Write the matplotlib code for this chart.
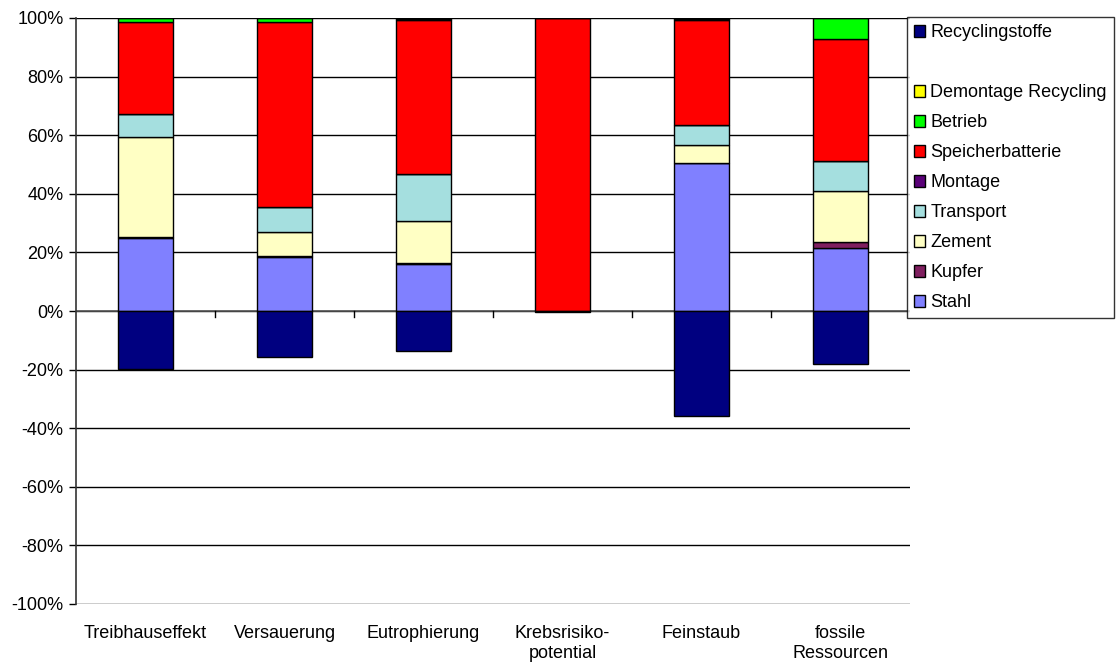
import matplotlib
matplotlib.use("Agg")
import matplotlib.pyplot as plt
from matplotlib.patches import Patch
from matplotlib.ticker import FuncFormatter
import numpy as np

plt.rcParams['font.family'] = ['Liberation Sans', 'DejaVu Sans']

categories = ["Treibhauseffekt", "Versauerung", "Eutrophierung",
              "Krebsrisiko-\npotential", "Feinstaub", "fossile\nRessourcen"]

# Shares in percent, stacked bottom-up in this order
stahl       = [24.8, 18.5, 16.0, 0.0, 50.4, 21.5]
kupfer      = [0.3, 0.2, 0.3, 0.0, 0.0, 1.9]
zement      = [34.4, 8.3, 14.5, 0.0, 6.3, 17.6]
transport   = [7.7, 8.5, 16.0, 0.0, 6.7, 10.3]
montage     = [0.0, 0.0, 0.0, 0.0, 0.0, 0.0]
speicher    = [31.3, 63.3, 52.5, 100.0, 35.9, 41.5]
betrieb     = [1.5, 1.2, 0.4, 0.0, 0.4, 7.2]
demontage   = [0.0, 0.0, 0.3, 0.0, 0.3, 0.0]
recycling   = [-19.7, -15.6, -13.5, -0.2, -35.8, -18.1]

series = [
    ("Stahl", stahl, "#8080FF"),
    ("Kupfer", kupfer, "#7F1F5F"),
    ("Zement", zement, "#FFFFC4"),
    ("Transport", transport, "#A5DFDF"),
    ("Montage", montage, "#5A0078"),
    ("Speicherbatterie", speicher, "#FF0000"),
    ("Betrieb", betrieb, "#00FF00"),
    ("Demontage Recycling", demontage, "#FFFF00"),
]
recycling_color = "#000080"

FS = 13

fig = plt.figure(figsize=(11.18, 6.64), dpi=100)
ax = fig.add_axes([76 / 1118, 1 - 604 / 664, (910 - 76) / 1118, (604 - 18) / 664])

x = np.arange(len(categories))
width = 0.4
bottom = np.zeros(len(categories))
for name, vals, col in series:
    v = np.array(vals)
    ax.bar(x, v, width, bottom=bottom, color=col, edgecolor="black",
           linewidth=1.0, zorder=3)
    bottom += v
ax.bar(x, recycling, width, color=recycling_color, edgecolor="black",
       linewidth=1.0, zorder=3)

ax.set_xlim(-0.5, len(categories) - 0.5)
ax.set_ylim(-100, 100)
ax.set_yticks(np.arange(-100, 101, 20))
ax.yaxis.set_major_formatter(FuncFormatter(lambda v, p: f"{int(round(v))}%"))
ax.grid(axis="y", color="black", linewidth=1.0, zorder=0)
ax.set_axisbelow(True)

for s in ["top", "right", "bottom"]:
    ax.spines[s].set_visible(False)
ax.spines["left"].set_color("#333333")
ax.spines["left"].set_linewidth(1.2)

# category axis along the zero line
ax.axhline(0, color="#555555", linewidth=1.2, zorder=2)
ax.set_xticks([])
for b in np.arange(0.5, len(categories) - 0.5, 1.0):
    ax.plot([b, b], [0, -2.2], color="black", linewidth=1.0, zorder=2,
            clip_on=False)
for xi, lab in zip(x, categories):
    ax.text(xi, -107.0, lab, ha="center", va="top", fontsize=FS,
            linespacing=1.3)

ax.tick_params(axis="y", labelsize=FS, length=5, width=1.0, pad=4)

handles = [Patch(facecolor=recycling_color, edgecolor="black", label="Recyclingstoffe"),
           Patch(facecolor="none", edgecolor="none", label=" ")]
for name, vals, col in reversed(series):
    handles.append(Patch(facecolor=col, edgecolor="black", label=name))

leg = fig.legend(handles=handles, loc="upper left",
                 bbox_to_anchor=(907 / 1118, 1 - 17 / 664),
                 borderaxespad=0, frameon=True, fancybox=False,
                 fontsize=FS, labelspacing=0.72, handlelength=0.6,
                 handleheight=0.6, handletextpad=0.3, borderpad=0.4)
leg.get_frame().set_edgecolor("black")
leg.get_frame().set_linewidth(1.0)

fig.savefig("out.png", dpi=100)
